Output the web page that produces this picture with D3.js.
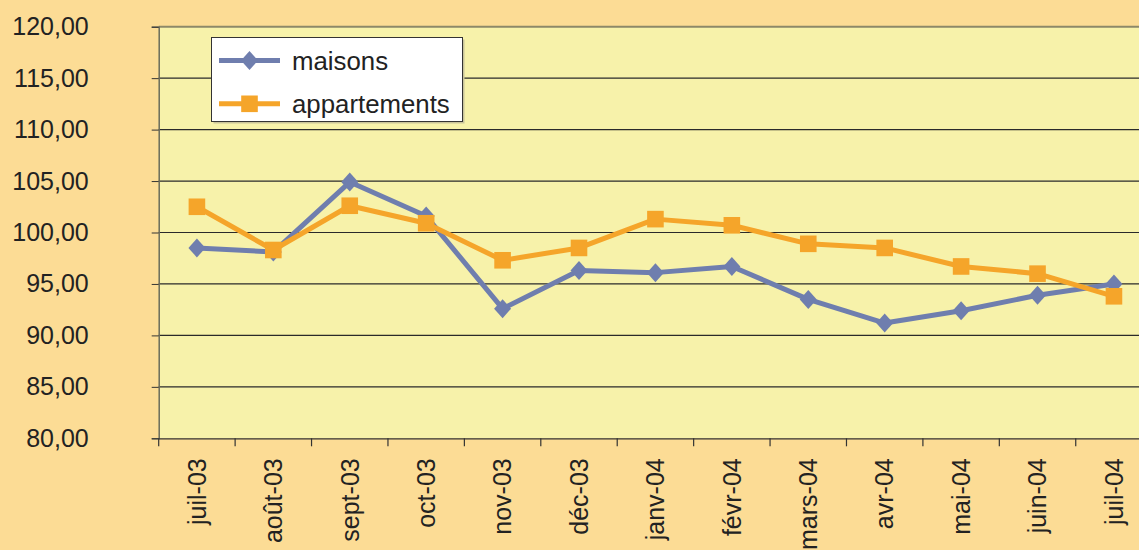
<!DOCTYPE html>
<html>
<head>
<meta charset="utf-8">
<script src="https://cdn.jsdelivr.net/npm/d3@7"></script>
<style>
  html, body { margin: 0; padding: 0; background: #fcdc95; }
  svg { display: block; font-family: "Liberation Sans", Arial, sans-serif; }
</style>
</head>
<body>
<svg id="chart" width="1139" height="550"></svg>
<script>
// chart data
const months = ["juil-03", "août-03", "sept-03", "oct-03", "nov-03", "déc-03", "janv-04",
                "févr-04", "mars-04", "avr-04", "mai-04", "juin-04", "juil-04"];
const maisons = [98.5, 98.1, 104.9, 101.6, 92.6, 96.3, 96.1, 96.7, 93.5, 91.2, 92.4, 93.9, 95.0];
const appartements = [102.5, 98.3, 102.6, 100.9, 97.3, 98.5, 101.3, 100.7, 98.9, 98.5, 96.7, 96.0, 93.8];
const yTicks = [80, 85, 90, 95, 100, 105, 110, 115, 120];

const series = [
    {name: "maisons", values: maisons, color: "#6f7eae", marker: "diamond"},
    {name: "appartements", values: appartements, color: "#f5a52a", marker: "square"}
];

const plotLeft = 158.7, plotTop = 26.7, plotBottom = 438.3, band = 76.42;

const svg = d3.select("#chart");

// scales
const x = d3.scaleBand()
    .domain(months)
    .range([plotLeft, plotLeft + months.length * band]);

const y = d3.scaleLinear()
    .domain([80, 120])
    .range([plotBottom, plotTop]);

// plot area
svg.append("rect")
    .attr("x", plotLeft).attr("y", plotTop)
    .attr("width", 1139 - plotLeft).attr("height", plotBottom - plotTop)
    .attr("fill", "#f7f2aa");

// horizontal gridlines
svg.append("g")
    .selectAll("line")
    .data(yTicks.slice(1, -1))
    .join("line")
    .attr("x1", plotLeft).attr("x2", 1139)
    .attr("y1", d => y(d)).attr("y2", d => y(d))
    .attr("stroke", "#2a2a2a")
    .attr("stroke-width", 1.2);

// top border
svg.append("line")
    .attr("x1", plotLeft).attr("x2", 1139)
    .attr("y1", plotTop).attr("y2", plotTop)
    .attr("stroke", "#8d8868")
    .attr("stroke-width", 2);

// y axis
const yAxis = d3.axisLeft(y)
    .tickValues(yTicks)
    .tickSize(7)
    .tickPadding(63)
    .tickFormat(d => d3.format(".2f")(d).replace(".", ","));

const gy = svg.append("g")
    .attr("transform", `translate(${plotLeft},0)`)
    .call(yAxis);
gy.select(".domain").attr("stroke", "#6b6b5a").attr("stroke-width", 1.5);
gy.selectAll(".tick line").attr("stroke", "#333");
gy.selectAll("text")
    .attr("font-size", 25)
    .attr("fill", "#222");

// x axis, labels centred in each band
const xAxis = d3.axisBottom(x).tickSize(0).tickPadding(0);
const gx = svg.append("g")
    .attr("transform", `translate(0,${plotBottom})`)
    .call(xAxis);
gx.select(".domain").attr("stroke", "#333").attr("stroke-width", 1.2);
gx.selectAll("text")
    .attr("transform", "rotate(-90)")
    .attr("x", -20)
    .attr("y", 0)
    .attr("dy", "0.35em")
    .attr("text-anchor", "end")
    .attr("font-size", 25)
    .attr("fill", "#222");

// category boundary ticks
svg.append("g")
    .selectAll("line")
    .data(months)
    .join("line")
    .attr("x1", d => x(d)).attr("x2", d => x(d))
    .attr("y1", plotBottom).attr("y2", plotBottom + 8)
    .attr("stroke", "#333")
    .attr("stroke-width", 1.2);

// markers
function drawMarker(sel, type, color) {
    if (type === "diamond") {
        sel.append("path")
            .attr("d", "M0,-9.5L8.5,0L0,9.5L-8.5,0Z")
            .attr("fill", color);
    } else {
        sel.append("rect")
            .attr("x", -8.3).attr("y", -8.3)
            .attr("width", 16.6).attr("height", 16.6)
            .attr("fill", color);
    }
}

const line = d3.line()
    .x((d, i) => x(months[i]) + x.bandwidth() / 2)
    .y(d => y(d));

series.forEach(s => {
    svg.append("path")
        .datum(s.values)
        .attr("fill", "none")
        .attr("stroke", s.color)
        .attr("stroke-width", 5)
        .attr("stroke-linejoin", "round")
        .attr("d", line);

    svg.append("g")
        .selectAll("g")
        .data(s.values)
        .join("g")
        .attr("transform", (d, i) => `translate(${x(months[i]) + x.bandwidth() / 2},${y(d)})`)
        .each(function () { drawMarker(d3.select(this), s.marker, s.color); });
});

// legend
const legend = svg.append("g").attr("transform", "translate(211.5,37.5)");
legend.append("rect")
    .attr("x", 2).attr("y", 2)
    .attr("width", 251).attr("height", 84)
    .attr("fill", "#c9c49a");
legend.append("rect")
    .attr("width", 251).attr("height", 84)
    .attr("fill", "#fff")
    .attr("stroke", "#333")
    .attr("stroke-width", 1);

const items = legend.selectAll(".item")
    .data(series)
    .join("g")
    .attr("class", "item")
    .attr("transform", (d, i) => `translate(0,${23 + i * 43.3})`);

items.append("line")
    .attr("x1", 7.5).attr("x2", 68.5)
    .attr("stroke", d => d.color)
    .attr("stroke-width", 5);

items.append("g")
    .attr("transform", "translate(38,0)")
    .each(function (d) { drawMarker(d3.select(this), d.marker, d.color); });

items.append("text")
    .attr("x", 80.5)
    .attr("dy", "0.35em")
    .attr("font-size", 25.8)
    .attr("fill", "#222")
    .text(d => d.name);
</script>
</body>
</html>
